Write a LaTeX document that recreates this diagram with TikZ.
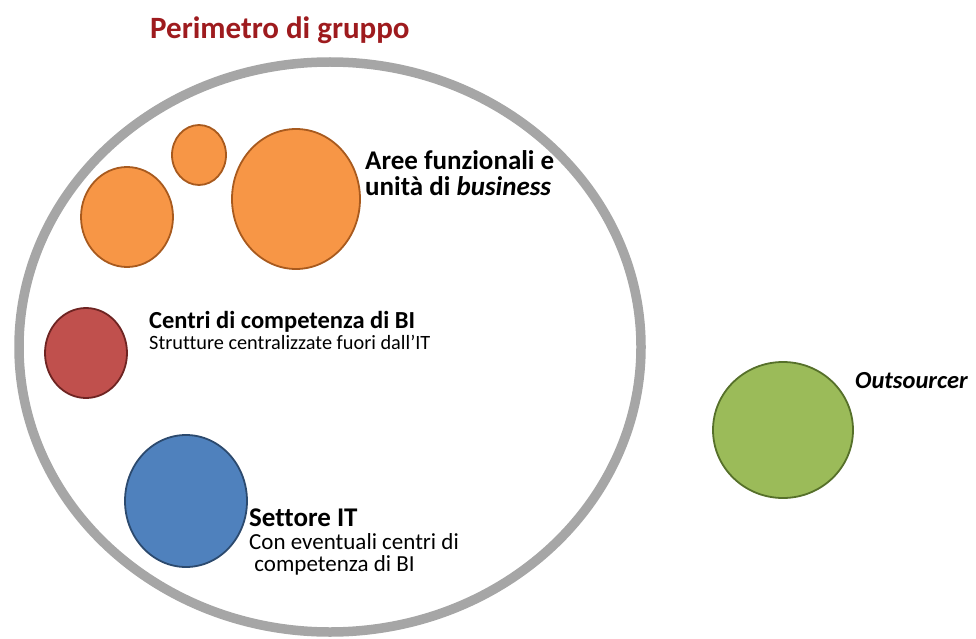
\documentclass[tikz,border=0pt]{standalone}
\usepackage{fontspec}
\setmainfont{Carlito}[Ligatures=NoCommon]
\usetikzlibrary{shapes.geometric}
\definecolor{ringgray}{HTML}{A6A6A6}
\definecolor{titlered}{HTML}{9E1B1E}
\definecolor{orfill}{HTML}{F79646}
\definecolor{ordraw}{HTML}{A85A1E}
\definecolor{rdfill}{HTML}{C0504D}
\definecolor{rddraw}{HTML}{6E2422}
\definecolor{blfill}{HTML}{4F81BD}
\definecolor{bldraw}{HTML}{2C4A6E}
\definecolor{grfill}{HTML}{9BBB59}
\definecolor{grdraw}{HTML}{56702A}
\tikzset{
  blob/.style={ellipse, draw, line width=1.8pt, inner sep=0pt},
  txt/.style={anchor=base west, inner sep=0pt},
}
\begin{document}
\begin{tikzpicture}[x=1pt,y=-1pt]
\useasboundingbox (0,0) rectangle (976,639);
% group perimeter
\node[ellipse, draw=ringgray, line width=9.5pt, minimum width=622pt, minimum height=570pt, inner sep=0pt] (perim) at (330,347) {};
\node[txt, text=titlered, font=\fontsize{31}{33}\selectfont\bfseries] (title) at (150,39) {Perimetro di gruppo};
% orange
\node[blob, fill=orfill, draw=ordraw, minimum width=92pt, minimum height=100pt] (or1) at (127,217) {};
\node[blob, fill=orfill, draw=ordraw, minimum width=54pt, minimum height=60pt] (or2) at (199,155) {};
\node[blob, fill=orfill, draw=ordraw, minimum width=128pt, minimum height=140pt] (or3) at (296,199) {};
\node[txt, font=\fontsize{27}{29}\selectfont\bfseries] (aree1) at (365,170) {Aree funzionali e};
\node[txt, font=\fontsize{27}{29}\selectfont\bfseries] (aree2) at (365,195) {unità di \textit{business}};
% red
\node[blob, fill=rdfill, draw=rddraw, minimum width=82pt, minimum height=90pt] (red) at (86,353) {};
\node[txt, font=\fontsize{24.5}{26}\selectfont\bfseries] (cen1) at (149,328) {Centri di competenza di BI};
\node[txt, font=\fontsize{20.3}{22}\selectfont] (cen2) at (149,349) {Strutture centralizzate fuori dall’IT};
% blue
\node[blob, fill=blfill, draw=bldraw, minimum width=122pt, minimum height=132pt] (blue) at (186,501) {};
\node[txt, font=\fontsize{27}{29}\selectfont\bfseries] (set1) at (249,526) {Settore IT};
\node[txt, font=\fontsize{23}{25}\selectfont] (set2) at (249,549) {Con eventuali centri di};
\node[txt, font=\fontsize{23}{25}\selectfont] (set3) at (249,571) {\ competenza di BI};
% green
\node[blob, fill=grfill, draw=grdraw, minimum width=140pt, minimum height=136pt] (green) at (783,430) {};
\node[txt, font=\fontsize{24.5}{26}\selectfont\bfseries] (out) at (855,388) {\textit{Outsourcer}};
\end{tikzpicture}
\end{document}
